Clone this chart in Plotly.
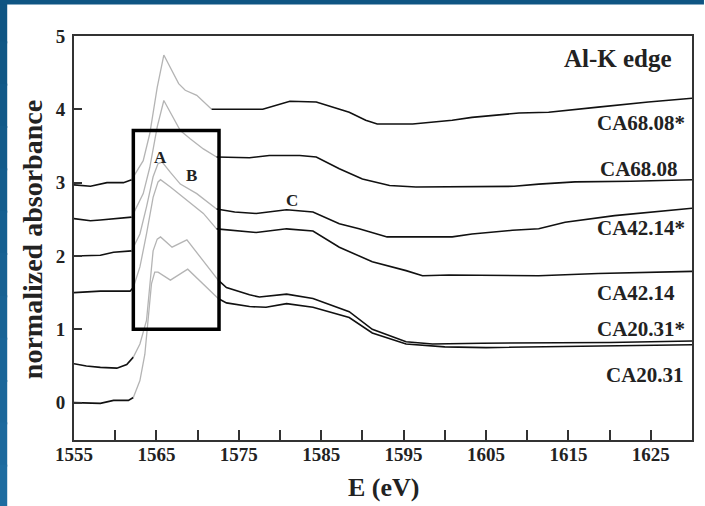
import plotly.graph_objects as go

# ---------------- data ----------------
E1 = [1555, 1557, 1559, 1561, 1562, 1563.4, 1564.2, 1565.1, 1565.9, 1566.9, 1567.7, 1568.5, 1569.9, 1571.7,
      1574, 1577.9, 1581.2, 1584.4, 1588.4, 1590.4, 1591.8, 1596.1, 1600.9, 1603.3, 1609, 1612.6, 1618.6, 1624.7, 1630]
A1 = [2.97, 2.95, 3.00, 3.00, 3.04, 3.30, 3.67, 4.30, 4.74, 4.53, 4.35, 4.26, 4.19, 4.00,
      4.00, 4.00, 4.11, 4.10, 3.96, 3.85, 3.80, 3.80, 3.85, 3.89, 3.95, 3.96, 4.03, 4.10, 4.15]

E2 = [1555, 1557, 1558.2, 1560.6, 1562, 1563.4, 1564.2, 1565.1, 1565.9, 1566.9, 1567.9, 1569.1, 1570.7, 1572.3,
      1576.3, 1578.7, 1582.4, 1584.4, 1587.2, 1590, 1593.3, 1596.5, 1600.5, 1608.4, 1611.4, 1615.8, 1622.6, 1630]
A2 = [2.51, 2.48, 2.49, 2.51, 2.53, 2.85, 3.21, 3.76, 4.12, 3.92, 3.71, 3.60, 3.46, 3.35,
      3.34, 3.37, 3.37, 3.35, 3.19, 3.05, 2.96, 2.94, 2.94, 2.95, 2.98, 3.01, 3.02, 3.04]

E3 = [1555, 1557, 1558.2, 1559.8, 1562, 1563, 1563.8, 1564.6, 1565.2, 1565.7, 1566.7, 1567.9, 1569.9, 1572.3,
      1574.5, 1577.1, 1580.8, 1584, 1587.2, 1589.6, 1593, 1596, 1600.9, 1603.3, 1608.2, 1611.4, 1614.6, 1620.6, 1630]
A3 = [2.00, 2.00, 2.01, 2.05, 2.07, 2.30, 2.67, 3.08, 3.26, 3.28, 3.14, 2.98, 2.85, 2.64,
      2.60, 2.58, 2.63, 2.60, 2.44, 2.37, 2.26, 2.26, 2.26, 2.30, 2.35, 2.37, 2.46, 2.55, 2.65]

E4 = [1555, 1558.2, 1561.8, 1562.2, 1563, 1563.8, 1564.6, 1565.2, 1565.5, 1566.7, 1567.9, 1569.1, 1570.7, 1572.3,
      1577.1, 1580.8, 1584, 1587.2, 1591.2, 1595.3, 1597.3, 1600.5, 1611.4, 1618.6, 1626.7, 1630]
A4 = [1.50, 1.52, 1.52, 1.57, 1.85, 2.30, 2.80, 3.01, 3.04, 2.94, 2.83, 2.73, 2.58, 2.37,
      2.32, 2.37, 2.34, 2.12, 1.92, 1.80, 1.73, 1.74, 1.73, 1.76, 1.78, 1.79]

E5 = [1555, 1556.5, 1558.2, 1560.2, 1561.4, 1562.2, 1563, 1563.8, 1564.2, 1564.6, 1565.1, 1565.5, 1566.9, 1568.7,
      1572.5, 1573.5, 1576.3, 1577.5, 1580.8, 1584, 1588.4, 1591.2, 1595.3, 1598.5, 1604.5, 1611.4, 1620, 1630]
A5 = [0.53, 0.50, 0.48, 0.47, 0.52, 0.62, 0.80, 1.12, 1.62, 2.07, 2.23, 2.26, 2.12, 2.22,
      1.67, 1.57, 1.47, 1.44, 1.48, 1.42, 1.24, 1.00, 0.83, 0.80, 0.81, 0.81, 0.82, 0.84]

E6 = [1555, 1557, 1558.2, 1559.8, 1561.6, 1562.2, 1563, 1563.6, 1564, 1564.4, 1564.8, 1565.2, 1566.7, 1568.8,
      1572.5, 1573.5, 1576.3, 1578.3, 1580.8, 1584, 1588.4, 1591.2, 1595.3, 1600, 1605, 1611, 1620, 1630]
A6 = [0.00, 0.00, -0.01, 0.03, 0.03, 0.07, 0.30, 0.66, 1.12, 1.62, 1.78, 1.78, 1.67, 1.82,
      1.42, 1.36, 1.31, 1.30, 1.35, 1.30, 1.16, 0.95, 0.80, 0.76, 0.75, 0.76, 0.77, 0.79]

series_names = ["CA68.08*", "CA68.08", "CA42.14*", "CA42.14", "CA20.31*", "CA20.31"]
series_E = [E1, E2, E3, E4, E5, E6]
series_A = [A1, A2, A3, A4, A5, A6]

# label anchors (right edge x, centre y) in data units
label_x = [1629.4, 1628.5, 1629.4, 1628.2, 1629.4, 1629.3]
label_y = [3.81, 3.19, 2.38, 1.50, 1.01, 0.38]

peak_labels = ["A", "B", "C"]
peak_x = [1565.45, 1569.3, 1581.4]
peak_y = [3.34, 3.10, 2.76]

x_ticks = [1555, 1565, 1575, 1585, 1595, 1605, 1615, 1625]
y_ticks = [0, 1, 2, 3, 4, 5]

# ---------------- figure ----------------
SERIF = "Liberation Serif, Times New Roman, serif"
INK = "#222222"
fig = go.Figure()

EDGE_LO, EDGE_HI = 1562.2, 1571.7
for name, ex, ay in zip(series_names, series_E, series_A):
    lo = max(i for i, v in enumerate(ex) if v <= EDGE_LO)
    hi = min(i for i, v in enumerate(ex) if v >= EDGE_HI)
    parts = [(ex[:lo + 1], ay[:lo + 1], "#111111", 1.6),
             (ex[lo:hi + 1], ay[lo:hi + 1], "#b4b4b4", 1.3),
             (ex[hi:], ay[hi:], "#111111", 1.6)]
    for px, py, col, w in parts:
        fig.add_trace(go.Scatter(x=px, y=py, mode="lines", name=name, showlegend=False,
                                 line=dict(color=col, width=w), hoverinfo="skip"))

# plot area geometry (px) for paper-coordinate placement
PW, PH, L, T = 620.0, 404.0, 74.0, 36.0
def px_x(p):
    return (p - L) / PW
def px_y(p):
    return (T + PH - p) / PH

ann = []
for t, lx, ly in zip(series_names, label_x, label_y):
    ann.append(dict(x=lx, y=ly, text=f"<b>{t}</b>", xanchor="right", yanchor="middle", showarrow=False,
                    font=dict(family=SERIF, size=21, color=INK), xref="x", yref="y"))
for t, lx, ly in zip(peak_labels, peak_x, peak_y):
    ann.append(dict(x=lx, y=ly, text=f"<b>{t}</b>", xanchor="center", yanchor="middle", showarrow=False,
                    font=dict(family=SERIF, size=17, color=INK), xref="x", yref="y"))
ann.append(dict(x=1627.8, y=4.70, text="<b>Al-K edge</b>", xanchor="right", yanchor="middle", showarrow=False,
                font=dict(family=SERIF, size=25, color=INK), xref="x", yref="y"))
# axis titles
ann.append(dict(x=px_x(384), y=px_y(487), xref="paper", yref="paper", text="<b>E (eV)</b>",
                showarrow=False, xanchor="center", yanchor="middle",
                font=dict(family=SERIF, size=26, color=INK)))
ann.append(dict(x=px_x(32), y=px_y(240), xref="paper", yref="paper", text="<b>normalized absorbance</b>",
                showarrow=False, xanchor="center", yanchor="middle", textangle=-90,
                font=dict(family=SERIF, size=28, color=INK)))

shapes = []
# highlighted box
shapes.append(dict(type="rect", xref="x", yref="y", x0=1562.2, x1=1572.6, y0=1.0, y1=3.71,
                   line=dict(color="black", width=3.5), fillcolor="rgba(0,0,0,0)", layer="above"))

# slide border (blue)
nband = 12
for i in range(nband):
    y0p = -1 + i * 508 / nband
    y1p = -1 + (i + 1) * 508 / nband + 2
    f = i / (nband - 1)
    r = int(15 + f * (30 - 15)); g = int(85 + f * (108 - 85)); b = int(131 + f * (160 - 131))
    shapes.append(dict(type="rect", xref="paper", yref="paper", x0=px_x(-1), x1=px_x(7),
                       y0=px_y(y1p), y1=px_y(y0p), line=dict(width=0),
                       fillcolor=f"rgb({r},{g},{b})", layer="above"))
shapes.append(dict(type="rect", xref="paper", yref="paper", x0=px_x(-1), x1=px_x(706), y0=px_y(4.5), y1=px_y(-1),
                   line=dict(width=0), fillcolor="#0f5583", layer="above"))

fig.update_layout(
    width=705, height=506,
    margin=dict(l=74, r=11, t=36, b=66),
    paper_bgcolor="white", plot_bgcolor="white",
    showlegend=False,
    annotations=ann, shapes=shapes,
    xaxis=dict(range=[1555, 1630], tickvals=x_ticks, ticktext=[f"<b>{v}</b>" for v in x_ticks],
               ticks="inside", ticklen=10, tickwidth=1.5, tickcolor="#333",
               minor=dict(dtick=5, tick0=1555, ticks="inside", ticklen=10, tickwidth=1.5, tickcolor="#333"),
               showline=True, mirror=True, linecolor="#333", linewidth=2,
               showgrid=False, zeroline=False, ticklabelstandoff=-4,
               tickfont=dict(family=SERIF, size=19, color=INK)),
    yaxis=dict(range=[-0.51, 5], tickvals=y_ticks, ticktext=[f"<b>{v}</b>" for v in y_ticks],
               ticks="inside", ticklen=8, tickwidth=1.5, tickcolor="#333",
               showline=True, mirror=True, linecolor="#333", linewidth=2,
               showgrid=False, zeroline=False, ticklabelstandoff=3,
               tickfont=dict(family=SERIF, size=19, color=INK)),
)

fig.write_html("out.html")
